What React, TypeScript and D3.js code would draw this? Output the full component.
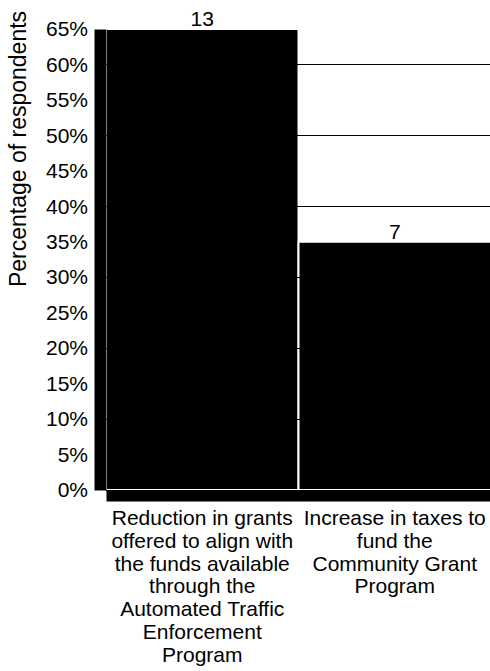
import React from "react";
import * as d3 from "d3";

const categories = [
    "Reduction in grants offered to align with the funds available through the Automated Traffic Enforcement Program",
    "Increase in taxes to fund the Community Grant Program",
];
const categoryLines = [
    ["Reduction in grants", "offered to align with", "the funds available", "through the", "Automated Traffic", "Enforcement", "Program"],
    ["Increase in taxes to", "fund the", "Community Grant", "Program"],
];
const percentages = [0.65, 0.35];
const counts = [13, 7];
const yTicks = [0, 0.05, 0.1, 0.15, 0.2, 0.25, 0.3, 0.35, 0.4, 0.45, 0.5, 0.55, 0.6, 0.65];
const gridTicks = [0, 0.1, 0.2, 0.3, 0.4, 0.5, 0.6];

export default function App() {
    const width = 490;
    const height = 671;
    const left = 106;
    const right = 491;
    const top = 29;
    const bottom = 490;
    const font = "'Liberation Sans', Arial, sans-serif";
    const fontSize = "21px";

    const svgRef = React.useRef<SVGSVGElement>(null);

    React.useEffect(() => {
        const svg = d3.select(svgRef.current);
        svg.selectAll("*").remove();

        const x = d3.scaleBand().domain(categories).range([left, right]).padding(0);
        const y = d3.scaleLinear().domain([0, 0.65]).range([bottom, top]);

        // bars with white outline
        svg.append("g")
            .selectAll("rect")
            .data(categories)
            .enter()
            .append("rect")
            .attr("x", d => x(d)!)
            .attr("y", (d, i) => y(percentages[i]))
            .attr("width", x.bandwidth())
            .attr("height", (d, i) => bottom - y(percentages[i]))
            .style("fill", "#000")
            .style("stroke", "#fff")
            .style("stroke-width", 2);

        // gridlines on top
        svg.append("g")
            .selectAll("line")
            .data(gridTicks)
            .enter()
            .append("line")
            .attr("x1", left)
            .attr("x2", right)
            .attr("y1", d => Math.round(y(d)) + 0.5)
            .attr("y2", d => Math.round(y(d)) + 0.5)
            .style("stroke", "#000")
            .style("stroke-width", 1);

        // thick x axis
        const axisX = d3.axisBottom(x).tickSize(0).tickFormat(() => "");
        const gx = svg.append("g")
            .attr("transform", `translate(0, ${bottom + 5.5})`)
            .call(axisX);
        gx.select(".domain").style("stroke", "#000").style("stroke-width", 11);

        // thick y axis
        const axisY = d3.axisLeft(y)
            .tickValues(yTicks)
            .tickSize(0)
            .tickPadding(12)
            .tickFormat(d => d3.format(".0%")(d as number));
        const gy = svg.append("g")
            .attr("transform", `translate(100, 0)`)
            .call(axisY);
        gy.select(".domain").style("stroke", "#000").style("stroke-width", 12);
        gy.selectAll("text")
            .style("font-family", font)
            .style("font-size", fontSize)
            .style("fill", "#000");

        // category labels
        categoryLines.forEach((lines, i) => {
            const cx = x(categories[i])! + x.bandwidth() / 2;
            const t = svg.append("text")
                .attr("text-anchor", "middle")
                .style("font-family", font)
                .style("font-size", fontSize)
                .style("fill", "#000");
            lines.forEach((line, j) => {
                t.append("tspan")
                    .attr("x", cx)
                    .attr("y", 525 + j * 22.8)
                    .text(line);
            });
        });

        // value labels
        svg.append("g")
            .selectAll("text")
            .data(categories)
            .enter()
            .append("text")
            .attr("x", d => x(d)! + x.bandwidth() / 2)
            .attr("y", (d, i) => y(percentages[i]) - 3)
            .attr("text-anchor", "middle")
            .style("font-family", font)
            .style("font-size", fontSize)
            .text((d, i) => counts[i]);

        // y title
        svg.append("text")
            .attr("transform", "translate(26, 149) rotate(-90)")
            .attr("text-anchor", "middle")
            .style("font-family", font)
            .style("font-size", "23px")
            .text("Percentage of respondents");
    }, []);

    return (
        <svg ref={svgRef} width={width} height={height}
             style={{position: "absolute", left: 0, top: 0, background: "#fff"}}></svg>
    );
}
